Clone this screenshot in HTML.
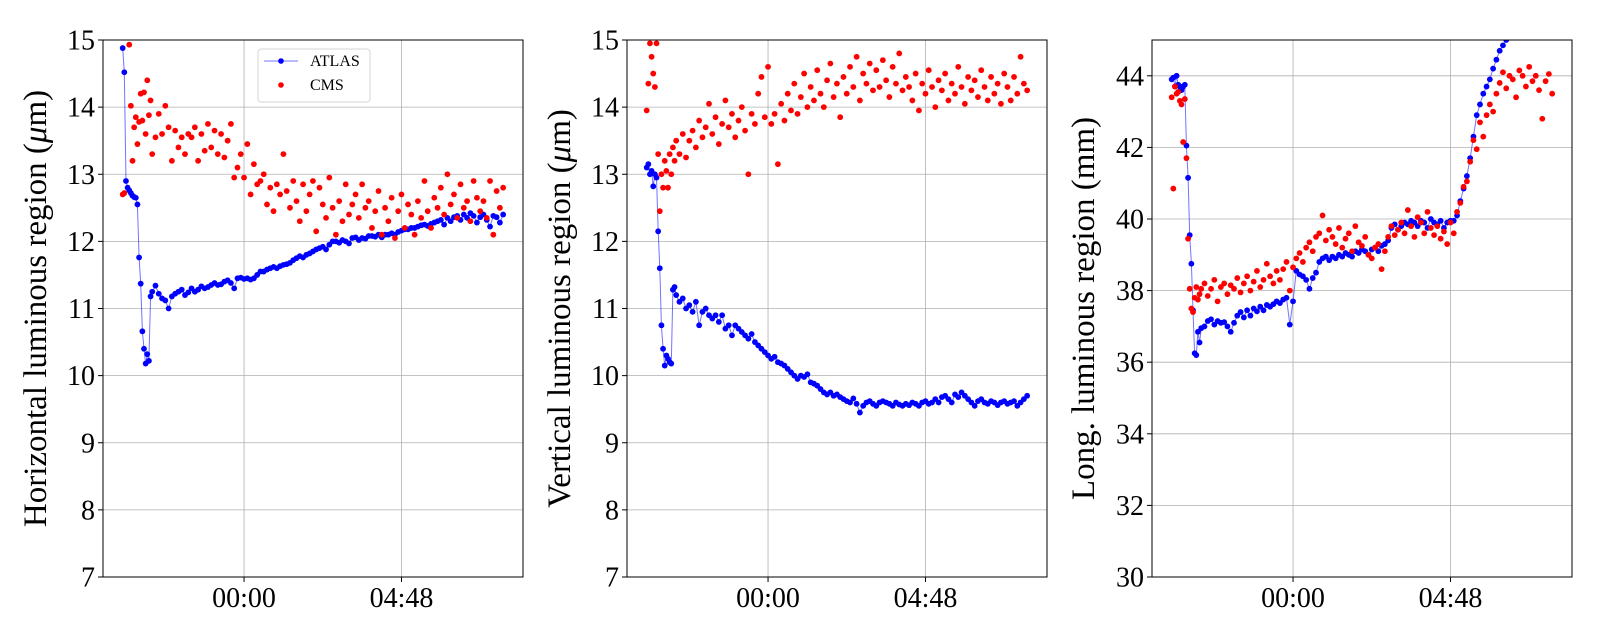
<!DOCTYPE html>
<html><head><meta charset="utf-8"><style>
body{margin:0;background:#fff;}
svg{display:block;font-family:"Liberation Serif","DejaVu Serif",serif;}
</style></head><body>
<svg id="chart" width="1600" height="640" viewBox="0 0 1600 640" xmlns="http://www.w3.org/2000/svg"></svg>
<script>
const times = [-3.70,-3.65,-3.60,-3.55,-3.50,-3.45,-3.40,-3.35,-3.30,-3.25,-3.20,-3.15,-3.10,-3.05,-3.00,-2.95,-2.90,-2.85,-2.80,
-2.7,-2.6,-2.5,-2.4,-2.3,-2.2,-2.1,-2.0,-1.9,-1.8,
-1.7,-1.6,-1.5,-1.4,-1.3,-1.2,-1.1,-1.0,-0.9,-0.8,
-0.7,-0.6,-0.5,-0.4,-0.3,-0.2,-0.1,0.0,0.1,0.2,
0.3,0.4,0.5,0.6,0.7,0.8,0.9,1.0,1.1,1.2,
1.3,1.4,1.5,1.6,1.7,1.8,1.9,2.0,2.1,2.2,
2.3,2.4,2.5,2.6,2.7,2.8,2.9,3.0,3.1,3.2,
3.3,3.4,3.5,3.6,3.7,3.8,3.9,4.0,4.1,4.2,
4.3,4.4,4.5,4.6,4.7,4.8,4.9,5.0,5.1,5.2,
5.3,5.4,5.5,5.6,5.7,5.8,5.9,6.0,6.1,6.2,
6.3,6.4,6.5,6.6,6.7,6.8,6.9,7.0,7.1,7.2,
7.3,7.4,7.5,7.6,7.7,7.8,7.9];
const xTickValues = [0, 4.8];
const xTickLabels = ["00:00", "04:48"];

const horizAtlas = [14.88,14.52,12.9,12.8,12.76,12.72,12.68,12.66,12.65,12.55,11.76,11.37,10.66,10.4,10.18,10.32,10.22,11.18,11.25,
11.34,11.22,11.15,11.12,11.0,11.18,11.22,11.25,11.28,11.2,
11.24,11.3,11.25,11.28,11.33,11.3,11.32,11.35,11.38,11.35,
11.36,11.4,11.42,11.38,11.3,11.45,11.46,11.44,11.45,11.43,
11.45,11.5,11.55,11.55,11.58,11.6,11.62,11.6,11.63,11.65,
11.66,11.68,11.72,11.75,11.78,11.76,11.8,11.82,11.85,11.88,
11.9,11.92,11.88,11.95,12.0,12.0,11.98,12.02,12.0,11.97,
12.05,12.06,12.02,12.05,12.04,12.08,12.08,12.07,12.1,12.06,
12.1,12.1,12.12,12.1,12.14,12.16,12.18,12.18,12.2,12.2,
12.22,12.24,12.25,12.23,12.26,12.28,12.3,12.32,12.25,12.35,
12.3,12.36,12.38,12.32,12.4,12.35,12.42,12.38,12.28,12.36,
12.4,12.32,12.22,12.38,12.36,12.28,12.4];
const horizCms = [12.7,12.72,null,null,14.93,14.02,13.2,13.7,13.85,13.45,13.78,14.2,13.8,14.22,13.6,14.4,13.88,14.1,13.3,
13.55,13.9,13.6,14.02,13.7,13.2,13.65,13.4,13.55,13.3,
13.6,13.55,13.7,13.2,13.6,13.35,13.75,13.4,13.65,13.3,
13.6,13.25,13.5,13.75,12.95,13.1,13.3,12.95,13.45,12.7,
13.15,12.85,12.9,13.0,12.55,12.8,12.45,12.85,12.7,13.3,
12.75,12.5,12.9,12.6,12.3,12.85,12.45,12.7,12.9,12.15,
12.8,12.55,12.35,12.95,12.5,12.1,12.6,12.3,12.85,12.4,
12.55,12.7,12.35,12.85,12.5,12.6,12.2,12.45,12.75,12.1,
12.5,12.3,12.65,12.05,12.45,12.7,12.2,12.55,12.4,12.1,
12.6,12.35,12.9,12.45,12.2,12.65,12.5,12.8,12.4,13.0,
12.55,12.7,12.35,12.85,12.5,12.6,12.3,12.9,12.65,12.45,
12.6,12.35,12.9,12.1,12.75,12.5,12.8];
const vertAtlas = [13.1,13.15,13.0,13.05,12.82,13.0,12.95,12.15,11.6,10.75,10.4,10.15,10.3,10.25,10.2,10.18,11.28,11.32,11.2,
11.1,11.15,11.0,11.05,10.95,11.1,10.75,10.95,11.0,10.9,
10.85,10.9,10.8,10.9,10.7,10.75,10.6,10.75,10.7,10.65,
10.6,10.55,10.62,10.5,10.45,10.4,10.35,10.3,10.25,10.28,
10.2,10.18,10.15,10.1,10.05,10.0,9.95,10.0,9.98,10.02,
9.9,9.88,9.85,9.8,9.75,9.72,9.75,9.7,9.72,9.68,
9.65,9.62,9.6,9.66,9.58,9.45,9.55,9.6,9.62,9.58,
9.55,9.6,9.62,9.6,9.58,9.55,9.6,9.57,9.55,9.58,
9.56,9.6,9.58,9.55,9.6,9.62,9.58,9.6,9.65,9.6,
9.68,9.7,9.65,9.6,9.72,9.68,9.75,9.7,9.65,9.6,
9.55,9.62,9.65,9.6,9.58,9.62,9.6,9.56,9.6,9.62,
9.58,9.6,9.62,9.55,9.6,9.65,9.7];
const vertCms = [13.95,14.35,14.95,14.75,14.5,14.3,14.95,13.3,12.45,13.0,12.8,13.2,13.05,12.8,13.3,13.0,13.4,13.2,13.5,
13.3,13.6,13.25,13.5,13.65,13.4,13.8,13.55,13.7,14.05,
13.6,13.85,13.45,13.75,14.1,13.7,13.9,13.55,13.8,14.0,
13.65,13.0,13.9,13.75,14.2,14.45,13.85,14.6,13.75,13.9,
13.15,14.05,13.8,14.2,13.95,14.35,13.9,14.15,14.5,14.0,
14.3,14.1,14.55,14.2,14.0,14.4,14.65,14.15,14.35,13.85,
14.45,14.2,14.6,14.3,14.75,14.1,14.5,14.35,14.65,14.25,
14.55,14.3,14.7,14.4,14.15,14.6,14.35,14.8,14.25,14.45,
14.3,14.1,14.5,13.95,14.35,14.2,14.55,14.3,14.0,14.4,
14.25,14.5,14.1,14.35,14.2,14.6,14.3,14.05,14.45,14.25,
14.4,14.15,14.55,14.3,14.1,14.45,14.2,14.35,14.05,14.5,
14.3,14.1,14.45,14.2,14.75,14.35,14.25];
const longAtlas = [43.9,43.95,43.7,44.0,43.75,43.7,43.6,43.7,43.75,42.05,41.15,39.55,38.75,37.45,36.25,36.2,36.85,36.55,36.95,
37.0,37.15,37.2,37.05,37.15,37.1,37.12,37.0,36.85,37.1,
37.3,37.4,37.25,37.45,37.3,37.5,37.42,37.55,37.45,37.6,
37.55,37.62,37.7,37.65,37.75,37.8,37.05,37.7,38.55,38.45,
38.4,38.3,38.05,38.35,38.5,38.8,38.9,38.95,38.85,38.95,
38.9,39.0,38.95,39.05,39.0,38.95,39.1,39.05,39.15,39.1,
39.0,39.15,39.2,39.1,39.25,39.3,39.4,39.75,39.85,39.7,
39.8,39.9,39.85,39.95,39.9,39.8,39.95,39.9,39.75,40.0,
39.9,39.85,39.95,39.75,39.9,39.95,39.95,40.1,40.5,40.85,
41.2,41.7,42.3,42.9,43.2,43.5,43.7,43.9,44.2,44.45,
44.7,44.85,45.0,45.2,45.5,45.7,45.9,46.1,46.3,46.5,
46.6,46.8,47.0,47.1,47.3,47.4,47.5];
const longCms = [43.4,40.85,43.7,43.5,43.55,43.3,43.2,42.15,43.35,41.7,39.45,38.05,37.5,37.4,37.8,38.1,37.75,37.9,38.05,
38.2,37.85,38.05,38.3,37.7,38.1,38.2,37.9,38.15,38.05,
38.35,37.95,38.2,38.4,38.0,38.25,38.55,38.1,38.3,38.75,
38.4,38.2,38.55,38.3,38.6,38.8,38.0,38.65,38.9,39.05,
38.8,39.2,39.35,39.1,39.5,39.6,40.1,39.4,39.7,39.5,
39.3,39.75,39.2,39.45,39.6,39.1,39.8,39.35,39.25,39.5,
39.0,38.9,39.2,39.3,38.6,39.1,39.5,39.8,39.55,39.7,
39.9,39.6,40.25,39.8,39.5,40.05,39.9,39.6,40.2,39.75,
39.55,39.8,39.45,39.65,39.3,39.9,39.6,40.2,40.45,40.9,
41.05,41.6,42.2,41.95,42.7,42.3,42.9,43.2,43.0,43.5,
43.8,44.1,43.65,44.0,43.9,43.4,44.15,44.0,43.7,44.25,
43.85,44.0,43.6,42.8,43.85,44.05,43.5];

const hTicks = [7,8,9,10,11,12,13,14,15];
const vTicks = [7,8,9,10,11,12,13,14,15];
const lTicks = [30,32,34,36,38,40,42,44];

const NS = "http://www.w3.org/2000/svg";
const svg = document.getElementById('chart');
function mk(tag, attrs, parent) {
  const e = document.createElementNS(NS, tag);
  for (const k in attrs) e.setAttribute(k, attrs[k]);
  (parent || svg).appendChild(e);
  return e;
}
const TOP = 40, BOT = 577, W = 420, T0 = -4.3, T1 = 8.505;

function panel(id, left, ymin, ymax, yTicks, label, atlas, cms, labelX, legend) {
  const g = mk('g', {});
  
  
  const xs = t => left + (t - T0) / (T1 - T0) * W;
  const ys = v => BOT - (v - ymin) / (ymax - ymin) * (BOT - TOP);
  const clipId = id + '-clip';
  const cp = mk('clipPath', {id: clipId}, g);
  mk('rect', {x: left, y: TOP, width: W, height: BOT - TOP}, cp);
  yTicks.forEach(v => {
    const y = ys(v);
    const gl = mk('line', {x1: left, x2: left + W, y1: y, y2: y, stroke: '#b0b0b0', 'stroke-width': 0.8}, g);
    
    
    mk('line', {x1: left - 5, x2: left, y1: y, y2: y, stroke: '#000', 'stroke-width': 1}, g);
    const tl = mk('text', {x: left - 8, y: y + 9.5, 'text-anchor': 'end', 'font-size': 28}, g);
    tl.textContent = v;
    
    
  });
  xTickValues.forEach((t, i) => {
    const x = xs(t);
    const gl = mk('line', {x1: x, x2: x, y1: TOP, y2: BOT, stroke: '#b0b0b0', 'stroke-width': 0.8}, g);
    
    
    mk('line', {x1: x, x2: x, y1: BOT, y2: BOT + 5, stroke: '#000', 'stroke-width': 1}, g);
    const tl = mk('text', {x: x, y: BOT + 30, 'text-anchor': 'middle', 'font-size': 28}, g);
    tl.textContent = xTickLabels[i];
    
    
  });
  const dg = mk('g', {'clip-path': 'url(#' + clipId + ')'}, g);
  let d = '';
  atlas.forEach((v, i) => { if (v !== null) d += (d ? 'L' : 'M') + xs(times[i]).toFixed(1) + ',' + ys(v).toFixed(1); });
  const pl = mk('path', {d: d, fill: 'none', stroke: 'rgba(0,0,255,0.55)', 'stroke-width': 1}, dg);
  
  
  atlas.forEach((v, i) => {
    if (v === null) return;
    const c = mk('circle', {cx: xs(times[i]), cy: ys(v), r: 2.9, fill: '#0000ff'}, dg);
    
    
  });
  cms.forEach((v, i) => {
    if (v === null) return;
    const c = mk('circle', {cx: xs(times[i]), cy: ys(v), r: 2.9, fill: '#ff0000'}, dg);
    
    
  });
  const fr = mk('rect', {x: left, y: TOP, width: W, height: BOT - TOP, fill: 'none', stroke: '#000', 'stroke-width': 1}, g);
  
  
  const yl = mk('text', {x: 0, y: 0, 'text-anchor': 'middle', 'font-size': 33, transform: 'translate(' + labelX + ',' + ((TOP + BOT) / 2) + ') rotate(-90)'}, g);
  yl.innerHTML = label;
  
  
  if (legend) {
    const lg = mk('g', {}, g);
    
    
    mk('rect', {x: 258, y: 49, width: 112, height: 53, rx: 3, fill: '#fff', 'fill-opacity': 0.8, stroke: '#d6d6d6', 'stroke-width': 1}, lg);
    const e1 = mk('g', {}, lg);
    
    
    mk('line', {x1: 264, x2: 298, y1: 61, y2: 61, stroke: 'rgba(0,0,255,0.55)', 'stroke-width': 1}, e1);
    mk('circle', {cx: 281, cy: 61, r: 2.8, fill: '#0000ff'}, e1);
    const t1 = mk('text', {x: 310, y: 66, 'font-size': 16}, e1);
    t1.textContent = 'ATLAS';
    const e2 = mk('g', {}, lg);
    
    
    mk('circle', {cx: 281, cy: 85, r: 2.8, fill: '#ff0000'}, e2);
    const t2 = mk('text', {x: 310, y: 90, 'font-size': 16}, e2);
    t2.textContent = 'CMS';
  }
}
panel('horizontal', 103, 7, 15, hTicks, 'Horizontal luminous region (<tspan font-style="italic">μ</tspan>m)', horizAtlas, horizCms, 46, true);
panel('vertical', 627, 7, 15, vTicks, 'Vertical luminous region (<tspan font-style="italic">μ</tspan>m)', vertAtlas, vertCms, 570, false);
panel('longitudinal', 1152, 30, 45, lTicks, 'Long. luminous region (mm)', longAtlas, longCms, 1094, false);
</script>
</body></html>
